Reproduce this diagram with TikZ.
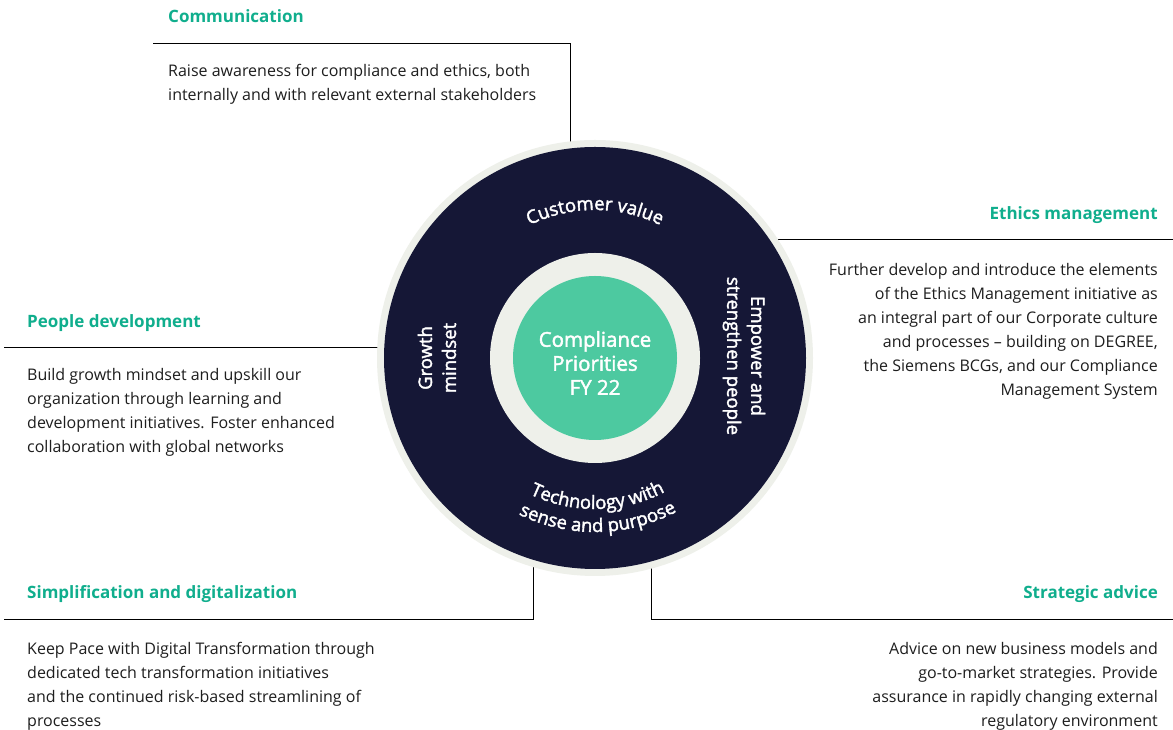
\documentclass[tikz,border=0pt]{standalone}
\usepackage{fontspec}
\setmainfont{Open Sans}
\newfontfamily\ringfamily[FakeBold=2]{Open Sans}
\usetikzlibrary{
  decorations.text,
  positioning
}
\definecolor{navy}{HTML}{151736}
\definecolor{ringgray}{HTML}{EEF0EA}
\definecolor{mint}{HTML}{4DC9A0}
\definecolor{headgreen}{HTML}{10AE8D}
\definecolor{bodygray}{HTML}{1E1E1E}
\newcommand{\ringfont}{\ringfamily\fontsize{18.5}{24}\selectfont}
\tikzset{
  x = 1pt,
  y = 1pt,
  head/.style = {inner sep=0pt, text=headgreen,
    font=\fontsize{17}{20}\selectfont\bfseries},
  body/.style = {inner sep=0pt, text=bodygray,
    font=\fontsize{16}{24}\selectfont},
  rule/.style = {line width=0.9pt, black},
  ringtext/.style = {inner sep=0pt, text=white, align=center,
    font=\ringfont},
  arctext/.style = {decorate, decoration={text along path,
    text align=center, text={|\ringfont\color{white}|#1}}},
}

\begin{document}
\begin{tikzpicture}
  \useasboundingbox[fill=white] (0,0) rectangle (1173,730);

  % headings and texts (base = last line)
  \node[head, anchor=base west] (comm) at (168,707) {Communication};
  \node[body, anchor=base west, align=left] (comm-txt) at (168,629)
    {Raise awareness for compliance and ethics, both\\
     internally and with relevant external stakeholders};

  \node[head, anchor=base east] (ethics) at (1158,510) {Ethics management};
  \node[body, anchor=base east, align=right] (ethics-txt) at (1158,334)
    {Further develop and introduce the elements\\
     of the Ethics Management initiative as\\
     an integral part of our Corporate culture\\
     and processes -- building on DEGREE,\\
     the Siemens BCGs, and our Compliance\\
     Management System};

  \node[head, anchor=base west] (people) at (27,402) {People development};
  \node[body, anchor=base west, align=left] (people-txt) at (27,277)
    {Build growth mindset and upskill our\\
     organization through learning and\\
     development initiatives. Foster enhanced\\
     collaboration with global networks};

  \node[head, anchor=base west] (simple) at (27,131) {Simplification and digitalization};
  \node[body, anchor=base west, align=left] (simple-txt) at (27,3)
    {Keep Pace with Digital Transformation through\\
     dedicated tech transformation initiatives\\
     and the continued risk-based streamlining of\\
     processes};

  \node[head, anchor=base east] (advice) at (1158,131) {Strategic advice};
  \node[body, anchor=base east, align=right] (advice-txt) at (1158,3)
    {Advice on new business models and\\
     go-to-market strategies. Provide\\
     assurance in rapidly changing external\\
     regulatory environment};

  % rules running into the ring
  \coordinate (comm-a) at (153,687);
  \coordinate (comm-b) at (570,560);
  \coordinate (ethics-a) at (1173,491);
  \coordinate (ethics-b) at (700,491);
  \coordinate (people-a) at (4,383);
  \coordinate (people-b) at (500,383);
  \coordinate (simple-a) at (4,111);
  \coordinate (simple-b) at (533,200);
  \coordinate (advice-a) at (1173,111);
  \coordinate (advice-b) at (651,200);
  \draw[rule] (comm-a) -| (comm-b);
  \draw[rule] (ethics-a) -- (ethics-b);
  \draw[rule] (people-a) -- (people-b);
  \draw[rule] (simple-a) -| (simple-b);
  \draw[rule] (advice-a) -| (advice-b);

  % the wheel
  \coordinate (hub) at (595,372);
  \fill[ringgray] (hub) circle[radius=218pt];
  \fill[navy] (hub) circle[radius=211pt];
  \fill[ringgray] (hub) circle[radius=105pt];
  \fill[mint] (hub) circle[radius=82pt];
  \node[inner sep=0pt, text=white, align=center,
    font=\ringfamily\fontsize{20.5}{24}\selectfont] (core) at ([yshift=-5pt]hub)
    {Compliance\\Priorities\\FY 22};

  \path[arctext={Customer value}]
    (hub) ++(140:148pt) arc[start angle=140, end angle=40, radius=148pt];
  \path[arctext={Technology with}]
    (hub) ++(211:151pt) arc[start angle=211, end angle=331, radius=151pt];
  \path[arctext={sense and purpose}]
    (hub) ++(211:174pt) arc[start angle=211, end angle=331, radius=174pt];
  \node[ringtext, rotate=90] (growth) at (437,372) {Growth\\mindset};
  \node[ringtext, rotate=-90] (empower) at (744,374)
    {Empower and\\strengthen people};
\end{tikzpicture}
\end{document}
